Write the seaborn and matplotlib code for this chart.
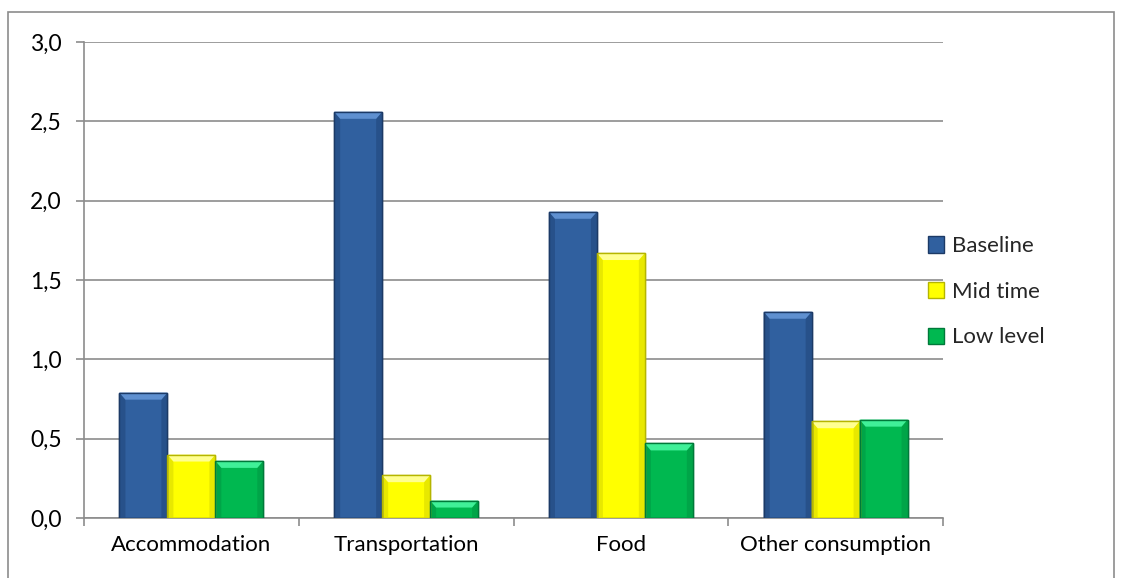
import matplotlib
matplotlib.use("Agg")
import matplotlib.pyplot as plt
import matplotlib.patches as mpatches
from matplotlib.ticker import FuncFormatter, FixedLocator
import seaborn as sns
import pandas as pd

categories = ["Accommodation", "Transportation", "Food", "Other consumption"]
series = ["Baseline", "Mid time", "Low level"]
baseline = [0.79, 2.56, 1.93, 1.30]
mid_time = [0.40, 0.27, 1.67, 0.61]
low_level = [0.36, 0.11, 0.47, 0.62]
colors = ["#30609F", "#FFFF00", "#00B850"]
edge_colors = ["#1C3A66", "#B5B500", "#00793A"]
top_colors = ["#5F90D0", "#FFFF90", "#40F098"]
side_colors = ["#27518A", "#E8E800", "#00A548"]

rows = []
for s, vals in zip(series, [baseline, mid_time, low_level]):
    for c, v in zip(categories, vals):
        rows.append({"category": c, "series": s, "value": v})
df = pd.DataFrame(rows)

sns.set_theme(style="white")
plt.rcParams["font.family"] = ["Lato", "DejaVu Sans"]

fig = plt.figure(figsize=(11.22, 5.78), dpi=100)
ax = fig.add_axes([84/1122, 1 - 518/578, (943-84)/1122, (518-42)/578])

sns.barplot(data=df, x="category", y="value", hue="series", order=categories,
            hue_order=series, palette=colors, width=0.67, ax=ax,
            saturation=1, legend=False)

ax.set_ylim(0, 3.0)
ax.set_xlim(-0.5, 3.5)

# bevel effect derived from each bar patch
px_x = 4.0 / (943 - 84)      # data units per pixel in x
px_y = 3.0 / (518 - 42)      # data units per pixel in y
for cont, ec, tc, sc in zip(ax.containers, edge_colors, top_colors, side_colors):
    for p in cont:
        p.set_edgecolor(ec)
        p.set_linewidth(1.0)
        p.set_zorder(3)
        x0, w, h = p.get_x(), p.get_width(), p.get_height()
        bx, by = 6 * px_x, 7 * px_y
        top = mpatches.Polygon([(x0, h), (x0 + w, h), (x0 + w - bx, h - by), (x0 + bx, h - by)],
                               closed=True, facecolor=tc, edgecolor="none", zorder=4)
        left = mpatches.Polygon([(x0, 0), (x0, h), (x0 + bx, h - by), (x0 + bx, 0)],
                                closed=True, facecolor=sc, edgecolor="none", zorder=4)
        right = mpatches.Polygon([(x0 + w, 0), (x0 + w, h), (x0 + w - bx, h - by), (x0 + w - bx, 0)],
                                 closed=True, facecolor=sc, edgecolor="none", zorder=4)
        for poly in (left, right, top):
            ax.add_patch(poly)
        outline = mpatches.Rectangle((x0, 0), w, h, fill=False, edgecolor=ec,
                                     linewidth=1.0, zorder=5)
        ax.add_patch(outline)

ax.yaxis.set_major_locator(FixedLocator([0, 0.5, 1.0, 1.5, 2.0, 2.5, 3.0]))
ax.yaxis.set_major_formatter(FuncFormatter(lambda v, p: f"{v:.1f}".replace(".", ",")))
ax.grid(axis="y", color="#8C8C8C", linewidth=1.2, zorder=0)
ax.set_axisbelow(True)
for side in ["top", "right"]:
    ax.spines[side].set_visible(False)
for side in ["left", "bottom"]:
    ax.spines[side].set_color("#8C8C8C")
    ax.spines[side].set_linewidth(1.2)
ax.set_xlabel("")
ax.set_ylabel("")
ax.tick_params(axis="y", which="major", length=6, width=1.2, color="#8C8C8C",
               direction="out", labelsize=16.5, pad=10, left=True)
ax.tick_params(axis="x", which="major", length=0, labelsize=16, pad=12)
ax.set_xticks([-0.5, 0.5, 1.5, 2.5, 3.5], minor=True)
ax.tick_params(axis="x", which="minor", length=6, width=1.2, color="#8C8C8C",
               direction="out", bottom=True)
for lab in ax.get_xticklabels() + ax.get_yticklabels():
    lab.set_color("#000000")

handles = [mpatches.Patch(facecolor=c, edgecolor=e, label=s)
           for c, e, s in zip(colors, edge_colors, series)]
ax.legend(handles=handles, loc="center left", bbox_to_anchor=(0.982, 0.475),
          frameon=False, fontsize=16, handlelength=0.75, handleheight=0.75,
          handletextpad=0.35, labelspacing=1.15, borderpad=0, borderaxespad=0)

fig.add_artist(mpatches.Rectangle((8/1122, -0.05), (1114-8)/1122, 1.05 - 12/578,
                                  transform=fig.transFigure, fill=False,
                                  edgecolor="#8C8C8C", linewidth=1.2))

fig.savefig("out.png", dpi=100, facecolor="white")
